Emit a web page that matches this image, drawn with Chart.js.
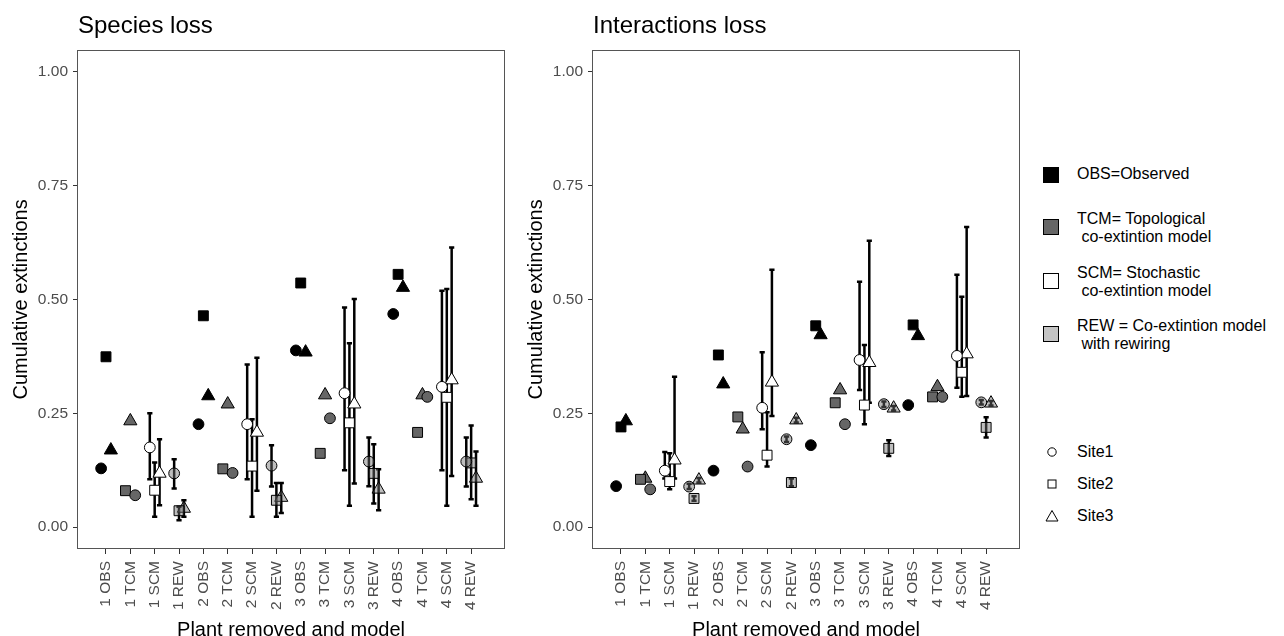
<!DOCTYPE html>
<html>
<head>
<meta charset="utf-8">
<script src="https://cdn.jsdelivr.net/npm/chart.js@4.4.0/dist/chart.umd.min.js"></script>
<style>
html,body{margin:0;padding:0;background:#fff;width:1284px;height:636px;overflow:hidden;font-family:'Liberation Sans',Arial,sans-serif;}
canvas{position:absolute;top:0;}
#c1{left:0;}
#c2{left:520px;}
.lg{position:absolute;font-size:16px;line-height:18px;color:#000;white-space:pre;}
.sw{position:absolute;width:16px;height:16px;border:1px solid #000;box-sizing:border-box;}
.sh{position:absolute;width:14px;height:14px;}
</style>
</head>
<body>
<canvas id="c1" width="520" height="636"></canvas>
<canvas id="c2" width="520" height="636"></canvas>
<div id="legend"></div>
<script>
// ---------- data ----------
const categories = ['1 OBS','1 TCM','1 SCM','1 REW','2 OBS','2 TCM','2 SCM','2 REW',
                    '3 OBS','3 TCM','3 SCM','3 REW','4 OBS','4 TCM','4 SCM','4 REW'];
const models = ['OBS','TCM','SCM','REW'];
const siteNames = ['Site1','Site2','Site3'];
const yTickValues = [0, 0.25, 0.5, 0.75, 1];

// Species loss
const speciesSite1 = [0.129,0.070,0.175,0.118, 0.226,0.119,0.226,0.135, 0.388,0.239,0.294,0.144, 0.468,0.286,0.308,0.144];
const speciesSite2 = [0.374,0.080,0.081,0.036, 0.464,0.128,0.134,0.059, 0.536,0.162,0.229,0.118, 0.555,0.208,0.285,0.141];
const speciesSite3 = [0.169,0.233,0.118,0.041, 0.288,0.270,0.208,0.065, 0.384,0.290,0.270,0.083, 0.526,0.290,0.323,0.107];
const speciesSite1Low  = [null,null,0.105,0.085, null,null,0.105,0.089, null,null,0.125,0.090, null,null,0.125,0.089];
const speciesSite1High = [null,null,0.250,0.149, null,null,0.357,0.180, null,null,0.482,0.197, null,null,0.519,0.197];
const speciesSite2Low  = [null,null,0.023,0.015, null,null,0.023,0.023, null,null,0.047,0.052, null,null,0.047,0.061];
const speciesSite2High = [null,null,0.142,0.045, null,null,0.237,0.097, null,null,0.404,0.182, null,null,0.523,0.223];
const speciesSite3Low  = [null,null,0.048,0.023, null,null,0.080,0.031, null,null,0.096,0.037, null,null,0.112,0.047];
const speciesSite3High = [null,null,0.193,0.059, null,null,0.372,0.097, null,null,0.501,0.127, null,null,0.614,0.166];

// Interactions loss
const interSite1 = [0.090,0.083,0.124,0.089, 0.124,0.133,0.262,0.193, 0.180,0.226,0.367,0.270, 0.268,0.286,0.376,0.274];
const interSite2 = [0.220,0.105,0.100,0.063, 0.378,0.242,0.158,0.098, 0.442,0.273,0.268,0.173, 0.444,0.286,0.340,0.219];
const interSite3 = [0.233,0.107,0.147,0.103, 0.314,0.215,0.318,0.235, 0.422,0.301,0.361,0.261, 0.420,0.308,0.380,0.272];
const interSite1Low  = [null,null,0.107,0.084, null,null,0.215,0.187, null,null,0.301,0.264, null,null,0.306,0.269];
const interSite1High = [null,null,0.165,0.095, null,null,0.384,0.199, null,null,0.539,0.276, null,null,0.554,0.279];
const interSite2Low  = [null,null,0.083,0.058, null,null,0.133,0.090, null,null,0.226,0.156, null,null,0.286,0.197];
const interSite2High = [null,null,0.162,0.068, null,null,0.252,0.107, null,null,0.400,0.191, null,null,0.506,0.241];
const interSite3Low  = [null,null,0.107,0.098, null,null,0.244,0.230, null,null,0.273,0.256, null,null,0.288,0.267];
const interSite3High = [null,null,0.330,0.108, null,null,0.565,0.240, null,null,0.629,0.266, null,null,0.659,0.277];

const modelLegendLabels = ['OBS=Observed', 'TCM= Topological\n co-extintion model',
                           'SCM= Stochastic\n co-extintion model', 'REW = Co-extintion model\n with rewiring'];

// ---------- styles ----------
const FONT = "'Liberation Sans', Arial, sans-serif";
const modelFill = {OBS:'#000000', TCM:'#666666', SCM:'#ffffff', REW:'rgba(110,110,110,0.45)'};
const modelLegendFill = {OBS:'#000000', TCM:'#666666', SCM:'#ffffff', REW:'#c4c4c4'};
const siteShapes = ['circle','rect','triangle'];
const siteRadius = [5.4, 7, 7.6];

function dodge(site, i) {
  const m = models[i % 4];
  if (m === 'TCM') return [0.2, -0.2, 0][site];
  return [-0.2, 0, 0.2][site];
}

const errorBarPlugin = {
  id: 'errbars',
  beforeDatasetsDraw(chart) {
    const ctx = chart.ctx, ys = chart.scales.y;
    ctx.save();
    ctx.strokeStyle = '#000';
    ctx.lineWidth = 2.5;
    chart.data.datasets.forEach((ds, di) => {
      const meta = chart.getDatasetMeta(di);
      meta.data.forEach((pt, i) => {
        const lo = ds.errLow[i], hi = ds.errHigh[i];
        if (lo == null || hi == null) return;
        const y1 = ys.getPixelForValue(lo), y2 = ys.getPixelForValue(hi);
        ctx.beginPath();
        ctx.moveTo(pt.x, y1); ctx.lineTo(pt.x, y2);
        ctx.moveTo(pt.x - 2.6, y1); ctx.lineTo(pt.x + 2.6, y1);
        ctx.moveTo(pt.x - 2.6, y2); ctx.lineTo(pt.x + 2.6, y2);
        ctx.stroke();
      });
    });
    ctx.restore();
  }
};

const boxPlugin = {
  id: 'panelbox',
  afterDraw(chart) {
    const a = chart.chartArea, ctx = chart.ctx;
    ctx.save();
    ctx.strokeStyle = '#555';
    ctx.lineWidth = 1;
    ctx.strokeRect(Math.round(a.left) - 0.5, Math.round(a.top) + 0.5,
                   Math.round(a.right - a.left) + 1, Math.round(a.bottom - a.top) - 1);
    ctx.restore();
  }
};

function makeChart(id, titleText, vals, lows, highs, yWidth, yTitlePad, rightPad) {
  const datasets = vals.map((v, s) => ({
    label: siteNames[s],
    data: v.map((y, i) => ({x: i + dodge(s, i), y: y})),
    errLow: lows[s],
    errHigh: highs[s],
    pointStyle: siteShapes[s],
    pointRadius: siteRadius[s],
    pointHoverRadius: siteRadius[s],
    pointBackgroundColor: c => modelFill[models[c.dataIndex % 4]],
    pointBorderColor: '#000',
    pointBorderWidth: 1,
    showLine: false
  }));
  return new Chart(document.getElementById(id), {
    type: 'scatter',
    data: {datasets},
    plugins: [errorBarPlugin, boxPlugin],
    options: {
      responsive: false,
      animation: false,
      devicePixelRatio: 1,
      events: [],
      layout: {padding: {left: 0, right: rightPad, top: 0, bottom: 0}},
      plugins: {
        legend: {display: false},
        tooltip: {enabled: false},
        title: {
          display: true, text: titleText, align: 'start', fullSize: false,
          color: '#000', font: {family: FONT, size: 24, weight: 'normal'},
          padding: {top: 12, bottom: 9}
        }
      },
      scales: {
        x: {
          type: 'linear', min: -1.15, max: 16.35, bounds: 'data',
          afterBuildTicks: a => { a.ticks = categories.map((_, i) => ({value: i})); },
          afterFit: s => { s.height = 87; },
          ticks: {
            autoSkip: false, maxRotation: 90, minRotation: 90, padding: 7,
            color: '#4d4d4d', font: {family: FONT, size: 15.5},
            callback: (v, i) => categories[i]
          },
          grid: {display: true, drawOnChartArea: false, drawTicks: true, tickLength: 5, tickColor: '#333'},
          border: {display: false},
          title: {display: true, text: 'Plant removed and model', color: '#000',
                  font: {family: FONT, size: 20}, padding: {top: 0, bottom: -6}}
        },
        y: {
          type: 'linear', min: -0.048, max: 1.048, bounds: 'data',
          afterBuildTicks: a => { a.ticks = yTickValues.map(v => ({value: v})); },
          afterFit: s => { s.width = yWidth; },
          ticks: {
            padding: 5, color: '#4d4d4d', font: {family: FONT, size: 15.5},
            callback: v => Number(v).toFixed(2)
          },
          grid: {display: true, drawOnChartArea: false, drawTicks: true, tickLength: 5, tickColor: '#333'},
          border: {display: false},
          title: {display: true, text: 'Cumulative extinctions', color: '#000',
                  font: {family: FONT, size: 20}, padding: {top: yTitlePad, bottom: 0}}
        }
      }
    }
  });
}

makeChart('c1', 'Species loss',
  [speciesSite1, speciesSite2, speciesSite3],
  [speciesSite1Low, speciesSite2Low, speciesSite3Low],
  [speciesSite1High, speciesSite2High, speciesSite3High],
  78, 9, 16);

makeChart('c2', 'Interactions loss',
  [interSite1, interSite2, interSite3],
  [interSite1Low, interSite2Low, interSite3Low],
  [interSite1High, interSite2High, interSite3High],
  73, 4, 21);

// ---------- legend (HTML) ----------
const lg = document.getElementById('legend');
const modelSwatchTop = [167, 219, 273, 326];
const modelTextTop = [165, 210, 264, 317];
models.forEach((m, k) => {
  const sw = document.createElement('div');
  sw.className = 'sw';
  sw.style.left = '1043px';
  sw.style.top = modelSwatchTop[k] + 'px';
  sw.style.background = modelLegendFill[m];
  lg.appendChild(sw);
  const t = document.createElement('div');
  t.className = 'lg';
  t.style.left = '1077px';
  t.style.top = modelTextTop[k] + 'px';
  t.textContent = modelLegendLabels[k];
  lg.appendChild(t);
});
const siteSvgs = [
  '<svg width="14" height="14"><circle cx="7" cy="7" r="4.2" fill="#fff" stroke="#000" stroke-width="1"/></svg>',
  '<svg width="14" height="14"><rect x="3" y="3" width="8" height="8" fill="#fff" stroke="#000" stroke-width="1"/></svg>',
  '<svg width="14" height="14"><polygon points="7,1.5 13,12 1,12" fill="#fff" stroke="#000" stroke-width="1"/></svg>'
];
const siteCenters = [452, 484, 516];
siteNames.forEach((s, k) => {
  const sh = document.createElement('div');
  sh.className = 'sh';
  sh.style.left = '1045px';
  sh.style.top = (siteCenters[k] - 7) + 'px';
  sh.innerHTML = siteSvgs[k];
  lg.appendChild(sh);
  const t = document.createElement('div');
  t.className = 'lg';
  t.style.left = '1077px';
  t.style.top = (siteCenters[k] - 9) + 'px';
  t.textContent = s;
  lg.appendChild(t);
});
</script>
</body>
</html>
